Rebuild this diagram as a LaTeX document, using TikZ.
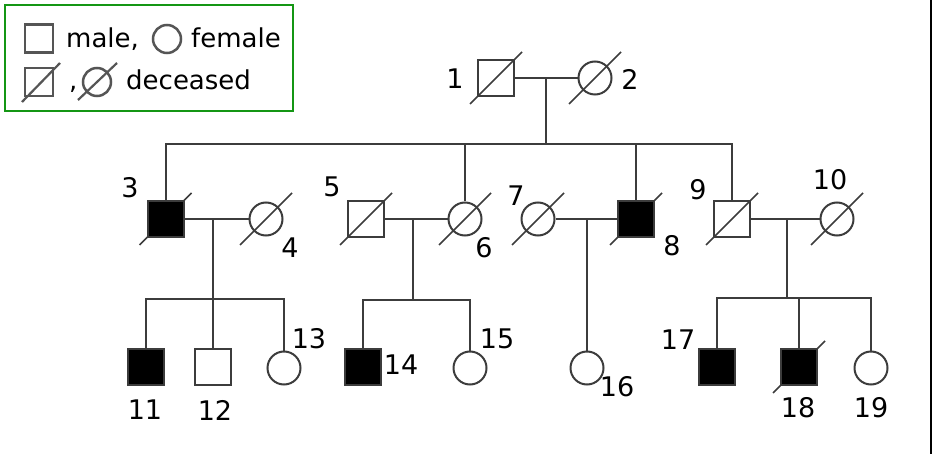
\documentclass[tikz,border=0pt]{standalone}
\usepackage{fontspec}
\setmainfont{DejaVu Sans}
\pgfdeclarelayer{bg}
\pgfsetlayers{bg,main}
\definecolor{lgreen}{RGB}{20,150,20}
\definecolor{pline}{RGB}{60,60,60}
\definecolor{legray}{RGB}{85,85,85}
\newcommand\deadmark[1]{\begin{pgfonlayer}{bg}\draw[slashln] ([shift={(-26,26)}]#1.center) -- ([shift={(26,-26)}]#1.center);\end{pgfonlayer}}
\begin{document}
\begin{tikzpicture}[x=1pt,y=-1pt,
  ln/.style={draw=pline, line width=2pt},
  slashln/.style={draw=pline, line width=1.7pt},
  male/.style={rectangle, draw=pline, line width=2pt, minimum size=36pt, inner sep=0pt},
  female/.style={circle, draw=pline, line width=2pt, minimum size=33pt, inner sep=0pt},
  aff/.style={fill=black},
  lab/.style={font=\fontsize{27}{27}\selectfont, inner sep=0pt},
  legtxt/.style={font=\fontsize{26}{26}\selectfont, inner sep=0pt, anchor=base west},
  legsq/.style={rectangle, draw=legray, line width=2.5pt, minimum size=28pt, inner sep=0pt},
  legci/.style={circle, draw=legray, line width=2.5pt, minimum size=28pt, inner sep=0pt}]
\useasboundingbox (0,0) rectangle (933,454);

% legend
\node[draw=lgreen, line width=2.6pt, minimum width=288pt, minimum height=106pt, inner sep=0pt] (legend) at (149,58) {};
\node[legsq] (ls1) at (39,38.5) {};
\node[legtxt] (lt1) at (66,48) {male,};
\node[legci] (lc1) at (167,39) {};
\node[legtxt] (lt2) at (191,48) {female};
\node[legsq] (ls2) at (39,82) {};
\draw[draw=legray, line width=2.2pt] ([shift={(-17,20)}]ls2.center) -- ([shift={(21,-19)}]ls2.center);
\node[legtxt] (lt3) at (69,90) {,};
\node[legci] (lc2) at (97,82) {};
\draw[draw=legray, line width=2.2pt] ([shift={(-19,18)}]lc2.center) -- ([shift={(20,-19)}]lc2.center);
\node[legtxt] (lt4) at (126,90) {deceased};

% right edge
\draw[line width=2pt] (931,0) -- (931,454);

% generation I
\node[male] (p1) at (496,78) {};
\node[female] (p2) at (595,78) {};
\deadmark{p1}\deadmark{p2}
\coordinate (m12) at (546,78);
\coordinate (s2) at (546,144);
\draw[ln] (p1) -- (p2);
\draw[ln] (m12) -- (s2);

% generation II
\node[male,aff] (p3) at (165.5,219) {};
\node[female] (p4) at (266,219) {};
\node[male] (p5) at (366,219) {};
\node[female] (p6) at (465,219) {};
\node[female] (p7) at (538,219) {};
\node[male,aff] (p8) at (636,219) {};
\node[male] (p9) at (732,219) {};
\node[female] (p10) at (837,219) {};
\deadmark{p3}\deadmark{p4}\deadmark{p5}\deadmark{p6}
\deadmark{p7}\deadmark{p8}\deadmark{p9}\deadmark{p10}

\draw[ln] (p3.north) -- (p3.north |- s2) -- (p9.north |- s2) -- (p9.north);
\draw[ln] (p6.north) -- (p6.north |- s2);
\draw[ln] (p8.north) -- (p8.north |- s2);

\draw[ln] (p3) -- (p4);
\draw[ln] (p5) -- (p6);
\draw[ln] (p7) -- (p8);
\draw[ln] (p9) -- (p10);

\coordinate (m34) at (213,219);
\coordinate (s34) at (213,299);
\coordinate (m56) at (413,219);
\coordinate (s56) at (413,300);
\coordinate (m78) at (587,219);
\coordinate (m910) at (787,219);
\coordinate (s910) at (787,298);

% generation III
\node[male,aff] (p11) at (145.5,367) {};
\node[male] (p12) at (213,367) {};
\node[female] (p13) at (284,368) {};
\node[male,aff] (p14) at (363,367) {};
\node[female] (p15) at (470,368) {};
\node[female] (p16) at (587,368) {};
\node[male,aff] (p17) at (717,367) {};
\node[male,aff] (p18) at (799,367) {};
\node[female] (p19) at (871,368) {};
\deadmark{p18}

\draw[ln] (m34) -- (s34);
\draw[ln] (p11.north) -- (p11.north |- s34) -- (p13.north |- s34) -- (p13.north);
\draw[ln] (p12.north) -- (p12.north |- s34);
\draw[ln] (m56) -- (s56);
\draw[ln] (p14.north) -- (p14.north |- s56) -- (p15.north |- s56) -- (p15.north);
\draw[ln] (m78) -- (p16.north);
\draw[ln] (m910) -- (s910);
\draw[ln] (p17.north) -- (p17.north |- s910) -- (p19.north |- s910) -- (p19.north);
\draw[ln] (p18.north) -- (p18.north |- s910);

% labels
\node[lab] (l1) at (455,79) {1};
\node[lab] (l2) at (630,79) {2};
\node[lab] (l3) at (130,188) {3};
\node[lab] (l4) at (290,248) {4};
\node[lab] (l5) at (332,187) {5};
\node[lab] (l6) at (484,248) {6};
\node[lab] (l7) at (516,196) {7};
\node[lab] (l8) at (672,246) {8};
\node[lab] (l9) at (698,190) {9};
\node[lab] (l10) at (830,180) {10};
\node[lab] (l11) at (145,410) {11};
\node[lab] (l12) at (215,410) {12};
\node[lab] (l13) at (309,339) {13};
\node[lab] (l14) at (401,365) {14};
\node[lab] (l15) at (497,339) {15};
\node[lab] (l16) at (617,387) {16};
\node[lab] (l17) at (678,340) {17};
\node[lab] (l18) at (798,408) {18};
\node[lab] (l19) at (871,408) {19};
\end{tikzpicture}
\end{document}
